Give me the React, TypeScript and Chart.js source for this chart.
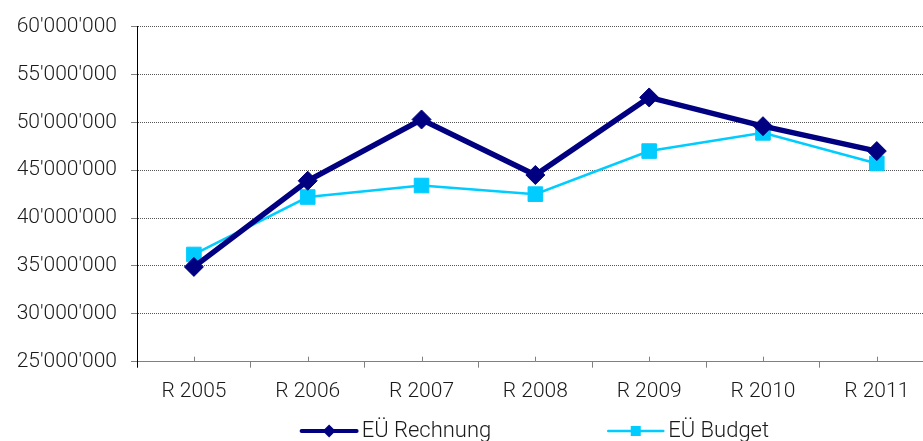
import React, { useEffect, useRef } from 'react';
import { Chart, registerables } from 'chart.js';

Chart.register(...registerables);

const categories = ['R 2005', 'R 2006', 'R 2007', 'R 2008', 'R 2009', 'R 2010', 'R 2011'];
const rechnungLabel = 'EÜ Rechnung';
const budgetLabel = 'EÜ Budget';
const rechnung = [34900000, 43900000, 50300000, 44500000, 52600000, 49600000, 47000000];
const budget = [36200000, 42200000, 43400000, 42500000, 47000000, 48900000, 45700000];
const yMin = 25000000;
const yMax = 60000000;
const yStep = 5000000;

const NAVY = '#000080';
const CYAN = '#00CCFF';
const FONT = 'Roboto, "Liberation Sans", Arial, sans-serif';
const TEXT = '#1a1a1a';

function fmt(v: number): string {
  return String(Math.round(v)).replace(/\B(?=(\d{3})+(?!\d))/g, "'");
}

const extrasPlugin = {
  id: 'extras',
  afterDraw(chart: any) {
    const ctx = chart.ctx as CanvasRenderingContext2D;
    const area = chart.chartArea;
    const xScale = chart.scales.x;
    ctx.save();
    ctx.strokeStyle = '#808080';
    ctx.lineWidth = 1;
    for (let i = 0; i < categories.length; i++) {
      const px = Math.round(xScale.getPixelForValue(i)) + 0.5;
      ctx.beginPath();
      ctx.moveTo(px, area.bottom);
      ctx.lineTo(px, area.bottom - 5);
      ctx.stroke();
    }
    ctx.restore();

    ctx.save();
    ctx.font = '300 22px ' + FONT;
    ctx.textBaseline = 'middle';
    const y = chart.height - 10;
    const lineLen = 55;
    const gapText = 5;
    const gapItem = 117;
    const ds = chart.data.datasets;
    const widths = ds.map((d: any) => ctx.measureText(d.label).width);
    let total = 0;
    ds.forEach((_: any, i: number) => {
      total += lineLen + gapText + widths[i];
      if (i < ds.length - 1) total += gapItem;
    });
    let x = (area.left + area.right) / 2 - total / 2;
    ds.forEach((d: any, i: number) => {
      ctx.strokeStyle = d.borderColor;
      ctx.lineWidth = d.legendLineWidth;
      ctx.lineCap = 'round';
      ctx.beginPath();
      ctx.moveTo(x, y);
      ctx.lineTo(x + lineLen, y);
      ctx.stroke();
      const cx = x + lineLen / 2;
      ctx.fillStyle = d.borderColor;
      const r = d.legendMarker;
      ctx.beginPath();
      if (d.pointStyle === 'rectRot') {
        ctx.moveTo(cx - r, y);
        ctx.lineTo(cx, y - r);
        ctx.lineTo(cx + r, y);
        ctx.lineTo(cx, y + r);
        ctx.closePath();
      } else {
        ctx.rect(cx - r, y - r, 2 * r, 2 * r);
      }
      ctx.fill();
      ctx.fillStyle = TEXT;
      ctx.fillText(d.label, x + lineLen + gapText, y);
      x += lineLen + gapText + widths[i] + gapItem;
    });
    ctx.restore();
  },
};

export default function App() {
  const ref = useRef<HTMLCanvasElement>(null);
  useEffect(() => {
    if (!ref.current) return;
    const chart = new Chart(ref.current, {
      type: 'line',
      data: {
        labels: categories,
        datasets: [
          {
            label: rechnungLabel,
            data: rechnung,
            borderColor: NAVY,
            backgroundColor: NAVY,
            borderWidth: 5.5,
            pointStyle: 'rectRot',
            pointRadius: 9.5,
            pointBorderWidth: 1,
            pointBackgroundColor: NAVY,
            pointBorderColor: NAVY,
            tension: 0,
            legendLineWidth: 4,
            legendMarker: 6.5,
          } as any,
          {
            label: budgetLabel,
            data: budget,
            borderColor: CYAN,
            backgroundColor: CYAN,
            borderWidth: 2.5,
            pointStyle: 'rect',
            pointRadius: 10.3,
            pointBorderWidth: 1,
            pointBackgroundColor: CYAN,
            pointBorderColor: CYAN,
            tension: 0,
            legendLineWidth: 2.5,
            legendMarker: 5,
          } as any,
        ],
      },
      options: {
        animation: false,
        responsive: false,
        devicePixelRatio: 1,
        layout: { padding: { top: 23.5, right: 11, bottom: 39.3, left: 0 } },
        plugins: {
          legend: { display: false },
          tooltip: { enabled: false },
        },
        scales: {
          x: {
            offset: true,
            afterFit: (s: any) => {
              s.height = 40;
            },
            grid: {
              offset: true,
              drawOnChartArea: false,
              drawTicks: true,
              tickLength: 6,
              color: '#808080',
              tickColor: (c: any) => (c.index === 0 ? '#000' : '#808080'),
            },
            border: { display: true, color: '#808080', width: 1 },
            ticks: {
              color: TEXT,
              padding: 11,
              font: { family: FONT, size: 21, weight: '300' },
              maxRotation: 0,
              autoSkip: false,
            },
          },
          y: {
            min: yMin,
            max: yMax,
            afterFit: (s: any) => {
              s.width = 137;
            },
            grid: {
              color: '#555',
              lineWidth: 1,
              drawTicks: true,
              tickLength: 6,
              tickColor: '#808080',
              tickBorderDash: [],
            },
            border: { display: true, color: '#000', width: 1, dash: [1, 1] },
            ticks: {
              stepSize: yStep,
              color: TEXT,
              padding: 14,
              font: { family: FONT, size: 21, weight: '300' },
              callback: (v: any) => fmt(Number(v)),
            },
          },
        },
      },
      plugins: [extrasPlugin],
    });
    return () => chart.destroy();
  }, []);
  return (
    <div
      style={{
        position: 'fixed',
        left: 0,
        top: 0,
        width: 923,
        height: 441,
        overflow: 'hidden',
        background: '#fff',
      }}
    >
      <canvas ref={ref} width={945} height={441} style={{ display: 'block', width: 945, height: 441 }} />
    </div>
  );
}
